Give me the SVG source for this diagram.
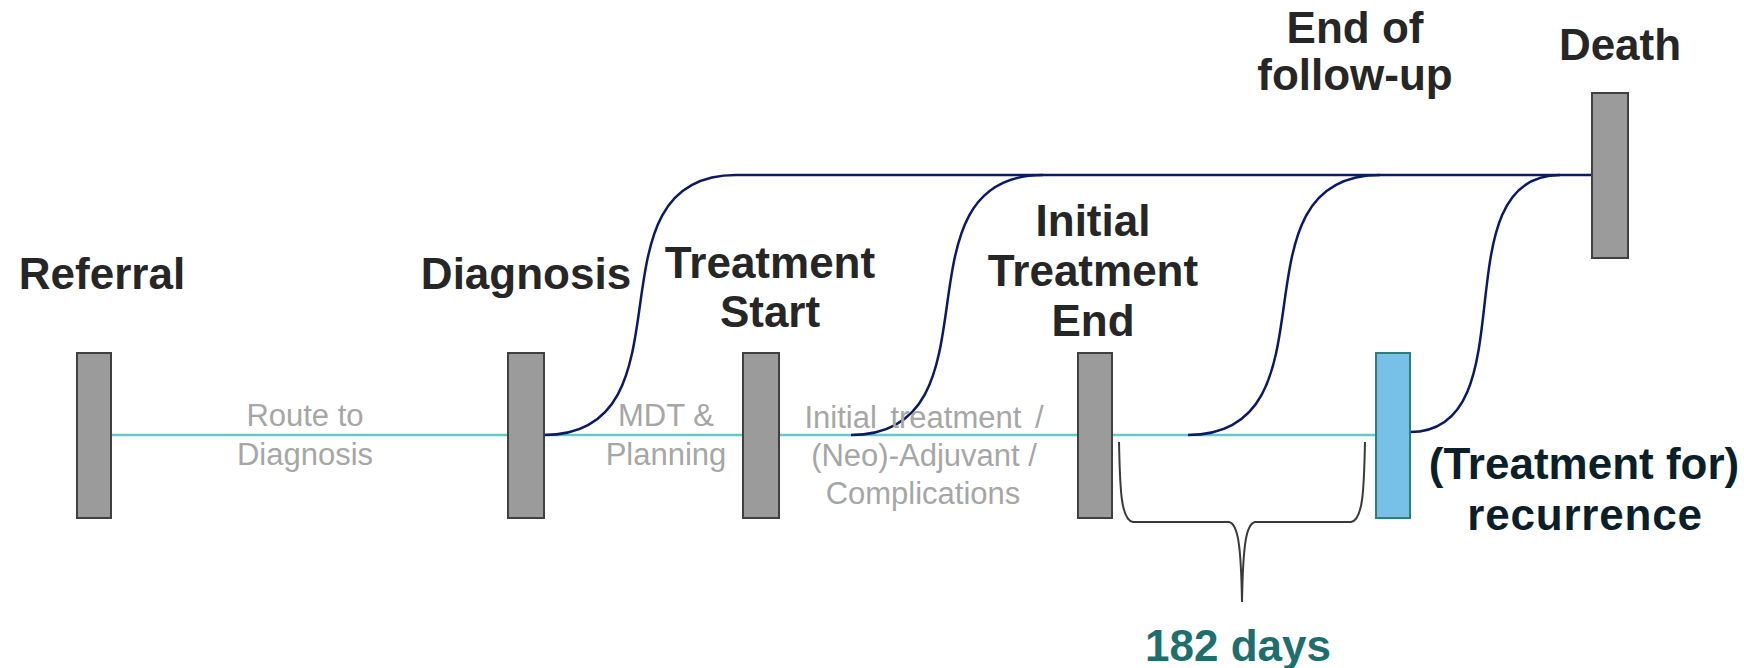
<svg xmlns="http://www.w3.org/2000/svg" width="1744" height="668" viewBox="0 0 1744 668">
<style>
.bar{fill:#9B9B9B;stroke:#404040;stroke-width:2}
.rec{fill:#77C1E8;stroke:#2E7C7E;stroke-width:2}
.title{font-family:"Liberation Sans",Arial,sans-serif;font-weight:bold;font-size:44px;fill:#262626;text-anchor:middle}
.label{font-family:"Liberation Sans",Arial,sans-serif;font-size:31px;fill:#A6A6A6;text-anchor:middle}
.base{stroke:#62C9C9;stroke-width:2.5;fill:none}
.path{stroke:#0C1A66;stroke-width:2.5;fill:none}
.brace{stroke:#3A3A3A;stroke-width:2;fill:none}
</style>
<g id="connectors">
<line class="base" x1="111" y1="435" x2="1376" y2="435"/>
<path class="path" d="M544,435 C700,435 580,175 736,175 L1591,175"/>
<path class="path" d="M851,435 C1007,435 887,175 1043,175"/>
<path class="path" d="M1188,435 C1344,435 1224,175 1380,175"/>
<path class="path" d="M1410,432 C1531,432 1438,175 1560,175"/>
</g>
<g id="referral">
<rect class="bar" x="77" y="353" width="34" height="165"/>
<text class="title" x="102" y="289">Referral</text>
</g>
<g id="route-label">
<text class="label" x="305" y="426">Route to</text>
<text class="label" x="305" y="465">Diagnosis</text>
</g>
<g id="diagnosis">
<rect class="bar" x="508" y="353" width="36" height="165"/>
<text class="title" x="526" y="289">Diagnosis</text>
</g>
<g id="mdt-label">
<text class="label" x="666" y="426">MDT &amp;</text>
<text class="label" x="666" y="465">Planning</text>
</g>
<g id="treatment-start">
<rect class="bar" x="743" y="353" width="36" height="165"/>
<text class="title" x="770" y="278">Treatment</text>
<text class="title" x="770" y="327">Start</text>
</g>
<g id="initial-label">
<text class="label" x="924" y="428" word-spacing="5">Initial treatment /</text>
<text class="label" x="924" y="466">(Neo)-Adjuvant /</text>
<text class="label" x="923" y="504">Complications</text>
</g>
<g id="initial-treatment-end">
<rect class="bar" x="1078" y="353" width="34" height="165"/>
<text class="title" x="1093" y="236">Initial</text>
<text class="title" x="1093" y="286">Treatment</text>
<text class="title" x="1093" y="336">End</text>
</g>
<g id="end-of-follow-up">
<text class="title" x="1355" y="43">End of</text>
<text class="title" x="1355" y="90">follow-up</text>
</g>
<g id="recurrence">
<rect class="rec" x="1376" y="353" width="34" height="165"/>
<text class="title" x="1584" y="479" style="fill:#0B1F2B">(Treatment for)</text>
<text class="title" x="1585" y="530" style="fill:#0B1F2B;letter-spacing:0.8px">recurrence</text>
</g>
<g id="death">
<rect class="bar" x="1592" y="93" width="36" height="165"/>
<text class="title" x="1620" y="60">Death</text>
</g>
<g id="interval">
<path class="brace" d="M1119,442 C1120,490 1121,520 1133,522 L1229,522 C1238,524 1241,545 1242,602 C1243,545 1246,524 1255,522 L1351,522 C1363,520 1364,490 1365,442"/>
<text class="title" x="1238" y="661" style="fill:#1F6E6E">182 days</text>
</g>
</svg>
